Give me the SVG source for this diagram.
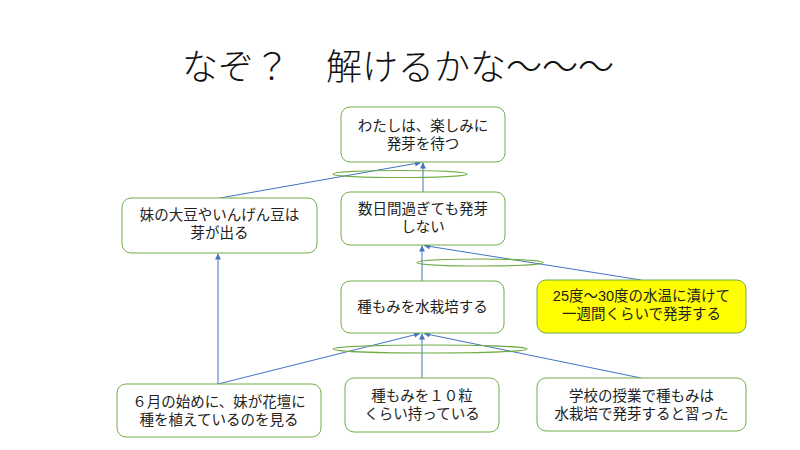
<svg xmlns="http://www.w3.org/2000/svg" width="800" height="450" viewBox="0 0 800 450">
<style>
text{font-family:"Liberation Sans","Noto Sans CJK JP",sans-serif;fill:#222;dominant-baseline:central;text-anchor:middle;font-size:14.5px}
.title{font-family:"Noto Sans CJK JP",sans-serif;font-size:36px;font-weight:300;text-anchor:start;fill:#111}
.box{fill:#fff;stroke:#70AD47;stroke-width:1}
.yel{fill:#FFFF00;stroke:#70AD47;stroke-width:1}
.ell{fill:none;stroke:#70AD47;stroke-width:1.2}
.c{stroke:#4472C4;stroke-width:1;fill:none;marker-end:url(#ah)}
</style>
<defs>
<marker id="ah" viewBox="0 0 10 10" refX="10" refY="5" markerWidth="6" markerHeight="6" orient="auto" markerUnits="userSpaceOnUse">
<path d="M0,0 L10,5 L0,10 z" fill="#4472C4"/>
</marker>
</defs>
<rect width="800" height="450" fill="#fff"/>
<text class="title" x="182" y="64">なぞ？　解けるかな〜〜〜</text>

<g id="connectors">
<line class="c" x1="423" y1="192" x2="423" y2="162.5"/>
<line class="c" x1="220" y1="198" x2="421" y2="162.5"/>
<line class="c" x1="641" y1="280" x2="424" y2="245.5"/>
<line class="c" x1="422" y1="281" x2="422" y2="245.5"/>
<line class="c" x1="218" y1="384" x2="218" y2="253.5"/>
<line class="c" x1="218" y1="384" x2="420" y2="333.5"/>
<line class="c" x1="422" y1="378" x2="422" y2="333.5"/>
<line class="c" x1="641" y1="378" x2="424" y2="333.5"/>
<ellipse class="ell" cx="400" cy="174" rx="67" ry="3.5"/>
<ellipse class="ell" cx="480" cy="262.5" rx="63" ry="3.5"/>
<ellipse class="ell" cx="430" cy="349" rx="97" ry="4"/>
</g>

<g id="n1"><rect class="box" x="341" y="107" width="164" height="55" rx="9"/>
<text x="423" y="125.5">わたしは、楽しみに</text><text x="423" y="143.5">発芽を待つ</text></g>
<g id="n2"><rect class="box" x="341" y="192" width="164" height="53" rx="9"/>
<text x="423" y="209">数日間過ぎても発芽</text><text x="423" y="227">しない</text></g>
<g id="n3"><rect class="box" x="122" y="198" width="195" height="55" rx="9"/>
<text x="219.5" y="215">妹の大豆やいんげん豆は</text><text x="219.5" y="233">芽が出る</text></g>
<g id="n4"><rect class="box" x="341" y="281" width="163" height="52" rx="9"/>
<text x="422.5" y="307">種もみを水栽培する</text></g>
<g id="n5"><rect class="yel" x="537" y="280" width="209" height="53" rx="9"/>
<text x="641.5" y="296">25度〜30度の水温に漬けて</text><text x="641.5" y="314">一週間くらいで発芽する</text></g>
<g id="n6"><rect class="box" x="117" y="384" width="204" height="53" rx="9"/>
<text x="219" y="401.5">６月の始めに、妹が花壇に</text><text x="219" y="419.5">種を植えているのを見る</text></g>
<g id="n7"><rect class="box" x="345" y="378" width="154" height="54" rx="9"/>
<text x="422" y="396">種もみを１０粒</text><text x="422" y="414">くらい持っている</text></g>
<g id="n8"><rect class="box" x="537" y="378" width="209" height="53" rx="9"/>
<text x="641.5" y="396">学校の授業で種もみは</text><text x="641.5" y="414">水栽培で発芽すると習った</text></g>
</svg>
